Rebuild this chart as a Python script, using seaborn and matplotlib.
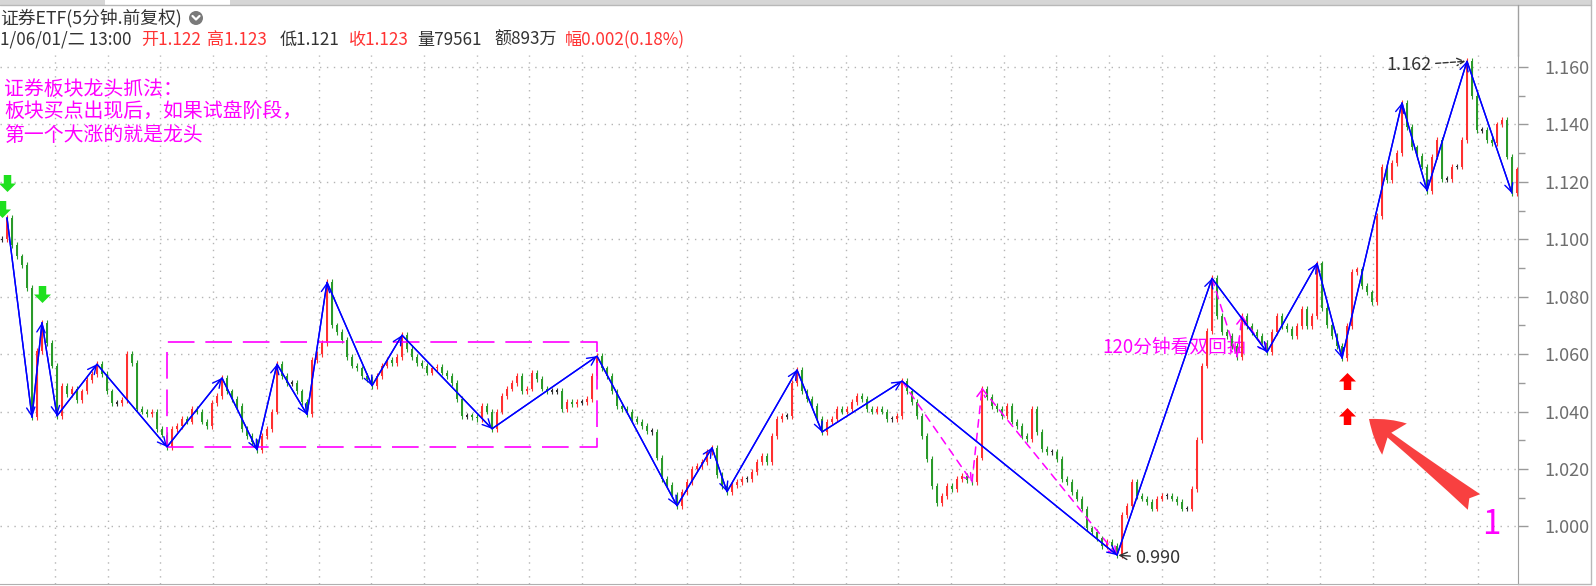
import numpy as np
import seaborn as sns
import matplotlib
matplotlib.use('Agg')
import matplotlib.pyplot as plt
from matplotlib.patches import Rectangle, Circle

# 5-minute closes (one value per ~5 px)
closes = [
    1.100, 1.1075, 1.098, 1.094, 1.091, 1.083, 1.038, 1.061, 1.071, 1.064,
    1.056, 1.0385, 1.049, 1.046, 1.048, 1.044, 1.047, 1.051, 1.053, 1.0565,
    1.053, 1.047, 1.043, 1.043, 1.044, 1.060, 1.057, 1.041, 1.040, 1.039,
    1.040, 1.034, 1.032, 1.0277, 1.034, 1.035, 1.0375, 1.0365, 1.041, 1.040,
    1.0365, 1.035, 1.043, 1.0455, 1.0517, 1.047, 1.0445, 1.042, 1.034, 1.0315,
    1.0295, 1.0267, 1.0315, 1.034, 1.040, 1.0565, 1.0525, 1.050, 1.050, 1.047,
    1.0433, 1.039, 1.058, 1.060, 1.064, 1.085, 1.070, 1.0676, 1.065, 1.059,
    1.056, 1.055, 1.0525, 1.0513, 1.049, 1.0525, 1.056, 1.058, 1.057, 1.059,
    1.0666, 1.0617, 1.059, 1.057, 1.056, 1.0536, 1.055, 1.0555, 1.0536, 1.0525,
    1.050, 1.0444, 1.0385, 1.0385, 1.038, 1.0375, 1.042, 1.040, 1.034, 1.040,
    1.0455, 1.048, 1.050, 1.0525, 1.047, 1.048, 1.0536, 1.0513, 1.048, 1.0472,
    1.0472, 1.0472, 1.041, 1.0433, 1.0427, 1.0433, 1.0433, 1.0444, 1.0525, 1.0593,
    1.055, 1.0525, 1.047, 1.042, 1.041, 1.040, 1.0375, 1.0365, 1.035, 1.0333,
    1.033, 1.024, 1.0165, 1.0145, 1.011, 1.0072, 1.012, 1.0155, 1.020, 1.021,
    1.0225, 1.026, 1.0274, 1.018, 1.014, 1.0121, 1.0145, 1.0155, 1.0166, 1.0166,
    1.019, 1.0225, 1.0245, 1.0225, 1.0315, 1.0375, 1.0385, 1.0385, 1.050, 1.0545,
    1.047, 1.0444, 1.042, 1.0375, 1.0329, 1.0365, 1.0375, 1.041, 1.040, 1.041,
    1.0433, 1.0455, 1.0444, 1.041, 1.040, 1.041, 1.040, 1.0375, 1.0375, 1.0385,
    1.0506, 1.047, 1.0433, 1.0385, 1.0315, 1.0235, 1.014, 1.008, 1.0107, 1.014,
    1.013, 1.0166, 1.0176, 1.016, 1.0155, 1.024, 1.048, 1.045, 1.042, 1.041,
    1.0385, 1.042, 1.0365, 1.035, 1.0315, 1.0305, 1.041, 1.033, 1.027, 1.026,
    1.026, 1.0235, 1.0166, 1.0155, 1.012, 1.0097, 1.0062, 0.9993, 0.998, 0.9958,
    0.9933, 0.9947, 0.9933, 0.990, 1.004, 1.007, 1.0155, 1.0107, 1.0097, 1.0086,
    1.0062, 1.0097, 1.0107, 1.0107, 1.0097, 1.0086, 1.0062, 1.0062, 1.013, 1.030,
    1.056, 1.068, 1.0864, 1.0732, 1.0676, 1.0663, 1.0628, 1.059, 1.0732, 1.0697,
    1.0676, 1.0663, 1.064, 1.0607, 1.0676, 1.0732, 1.0697, 1.0687, 1.0663, 1.0697,
    1.0756, 1.0697, 1.0732, 1.0916, 1.076, 1.070, 1.0663, 1.0628, 1.0586, 1.0697,
    1.0885, 1.0895, 1.0836, 1.0815, 1.078, 1.108, 1.1253, 1.1207, 1.1265, 1.130,
    1.1475, 1.139, 1.132, 1.129, 1.1253, 1.1169, 1.1288, 1.1346, 1.121, 1.121,
    1.1253, 1.1253, 1.1346, 1.162, 1.150, 1.138, 1.138, 1.1346, 1.1336, 1.140,
    1.1416, 1.1288, 1.116, 1.1243,
]

# turning points of the blue zigzag (bar indices)
zigzag_idx = [1, 6, 8, 11, 19, 33, 44, 51, 55, 61, 65, 74, 80, 98, 119, 135,
              142, 145, 159, 164, 180, 223, 242, 253, 263, 268, 280, 285, 293, 302]
# magenta dashed sub-waves
magenta_waves = [[180, 194, 196, 223], [242, 247, 248, 253]]
# dashed box (consolidation range)
box_idx = [33, 119]
box_price = [1.0277, 1.0642]
# signals
sell_idx = [1, 0, 8]
sell_price = [1.1197, 1.1107, 1.0808]
buy_idx = [269, 269]
buy_price = [1.0505, 1.0385]
y_ticks = [1.000, 1.020, 1.040, 1.060, 1.080, 1.100, 1.120, 1.140, 1.160]

title = '证券ETF(5分钟.前复权)'
info_parts = [('1/06/01/二 13:00', '#333333', 0), ('开1.122', '#ff3333', 141),
              ('高1.123', '#ff3333', 207), ('低1.121', '#333333', 280),
              ('收1.123', '#ff3333', 349), ('量79561', '#333333', 417),
              ('额893万', '#333333', 494), ('幅0.002(0.18%)', '#ff3333', 565)]
note_lines = ['证券板块龙头抓法：', '板块买点出现后，如果试盘阶段，', '第一个大涨的就是龙头']

sns.set_style('white')
plt.rcParams['font.family'] = ['Noto Sans CJK SC', 'DejaVu Sans']

W, H = 1596, 586
fig = plt.figure(figsize=(W / 100, H / 100), dpi=100, facecolor='white')
ax = fig.add_axes([0, 2 / H, 1518 / W, (584 - 55) / H])

c = np.array(closes)
o = np.concatenate([[c[0]], c[:-1]])
x = np.arange(len(c))
diff = c - o
colors = np.where(diff > 0.0004, '#ff3030', np.where(diff < -0.0004, '#2a9a2a', '#303030'))
body = np.where(np.abs(diff) < 0.0005, 0.0005, diff)
lo = np.minimum(o, c)
hi = np.maximum(o, c)
ax.vlines(x, lo - 0.001, hi + 0.001, colors=colors, lw=0.8, zorder=3)
ax.bar(x, body, bottom=np.where(np.abs(diff) < 0.0005, o - 0.00025, o),
       width=0.55, color=colors, linewidth=0, zorder=3)

# blue zigzag
zz_y = c[zigzag_idx]
sns.lineplot(x=zigzag_idx, y=zz_y, ax=ax, color='#0000ff', lw=1.0, zorder=5,
             sort=False, estimator=None)
for a, b in zip(zigzag_idx[:-1], zigzag_idx[1:]):
    ax.annotate('', xy=(b, c[b]), xytext=(a, c[a]),
                arrowprops=dict(arrowstyle='->,head_length=0.6,head_width=0.3',
                                color='#0000ff', lw=1.0, shrinkA=0, shrinkB=0),
                zorder=5)

# magenta sub-waves
for wave in magenta_waves:
    for a, b in zip(wave[:-1], wave[1:]):
        ax.annotate('', xy=(b, c[b]), xytext=(a, c[a]),
                    arrowprops=dict(arrowstyle='->,head_length=0.5,head_width=0.3',
                                    color='#ff00ff', lw=1.1, linestyle=(0, (5, 4)),
                                    shrinkA=0, shrinkB=0), zorder=4)

# dashed box
bx = [box_idx[0], box_idx[1], box_idx[1], box_idx[0], box_idx[0]]
by = [box_price[0], box_price[0], box_price[1], box_price[1], box_price[0]]
ax.plot(bx, by, color='#ff00ff', lw=1.2, linestyle=(0, (16, 6.5)), zorder=4)

ax.text(220, 1.0624, '120分钟看双回抽', color='#ff00ff', fontsize=13.5,
        ha='left', va='center', zorder=2)

# signal arrows
up_arrow = [(0, 0.5), (0.5, 0.0), (0.22, 0.0), (0.22, -0.5), (-0.22, -0.5),
            (-0.22, 0.0), (-0.5, 0.0), (0, 0.5)]
down_arrow = [(px, -py) for px, py in up_arrow]
ax.scatter(buy_idx, buy_price, marker=up_arrow, s=150, color='#ff0000',
           linewidths=0, zorder=6)
ax.scatter(sell_idx, sell_price, marker=down_arrow, s=150, color='#1ee01e',
           linewidths=0, zorder=6)

# extreme labels
ax.annotate('1.162', xy=(293, 1.162), xytext=(-36, -4), textcoords='offset pixels',
            ha='right', va='center', fontsize=13, color='#333333',
            arrowprops=dict(arrowstyle='->', linestyle='--', color='#333333',
                            lw=1, shrinkA=1, shrinkB=1), zorder=6)
ax.annotate('0.990', xy=(223, 0.990), xytext=(18, -3), textcoords='offset pixels',
            ha='left', va='center', fontsize=13, color='#333333',
            arrowprops=dict(arrowstyle='->', color='#333333', lw=1,
                            shrinkA=1, shrinkB=1), zorder=6)

ax.set_xlim(-0.4, 303.2)
ax.set_ylim(0.97995, 1.16417)
ax.set_yticks(y_ticks)
ax.set_yticklabels([f'{v:.3f}' for v in y_ticks])
ax.set_yticks([1.010, 1.030, 1.050, 1.070, 1.090, 1.110, 1.130, 1.150], minor=True)
ax.set_xticks(np.arange(10.6, 303, 10.54))
ax.set_xticklabels([])
ax.yaxis.tick_right()
ax.tick_params(axis='y', which='major', direction='out', length=7, width=1,
               color='#9a9a9a', labelcolor='#6e6e6e', labelsize=13, pad=12)
ax.tick_params(axis='y', which='minor', direction='out', length=5, width=1,
               color='#9a9a9a')
ax.tick_params(axis='x', length=0)
ax.grid(True, which='major', linestyle=(0, (1, 4)), color='#b4b4b4', lw=1)
ax.set_axisbelow(True)
for s in ['left', 'top']:
    ax.spines[s].set_visible(False)
ax.spines['right'].set_color('#a0a0a0')
ax.spines['bottom'].set_color('#b0b0b0')
ax.set_xlabel('')
ax.set_ylabel('')

# overlay in pixel coordinates for header and annotations
ov = fig.add_axes([0, 0, 1, 1])
ov.set_xlim(0, W)
ov.set_ylim(H, 0)
ov.axis('off')
ov.patch.set_alpha(0)

ov.add_patch(Rectangle((0, 0), 1591, 5, color='#d6d6d6', lw=0))
ov.add_patch(Rectangle((105, 0), 125, 5, color='white', lw=0))
ov.plot([0, 1591], [5, 5], color='#b8b8b8', lw=1)
ov.plot([1518, 1518], [5, 56], color='#a0a0a0', lw=1)
ov.plot([1591, 1591], [0, 584], color='#b8b8b8', lw=1)
ov.plot([1518, 1591], [584, 584], color='#b8b8b8', lw=1)

ov.text(0, 18, title, color='#333333', fontsize=12.8, ha='left', va='center')
ov.add_patch(Circle((196, 18), 7, color='#7a7a7a', lw=0))
ov.plot([192.5, 196, 199.5], [16, 19.5, 16], color='white', lw=1.6)
for txt, col, px in info_parts:
    ov.text(px, 40, txt, color=col, fontsize=12.3, ha='left', va='center')

for k, line in enumerate(note_lines):
    ov.text(4, 89 + 23 * k, line, color='#ff00ff', fontsize=14.3,
            ha='left', va='center')

ov.annotate('', xy=(1369, 419), xytext=(1474, 502),
            arrowprops=dict(arrowstyle='fancy,head_length=0.9,head_width=1.1,tail_width=0.55',
                            color='#f84040', lw=0, mutation_scale=26,
                            connectionstyle='arc3', shrinkA=0, shrinkB=0))
ov.text(1482, 525, '1', color='#ff00ff', fontsize=24, ha='left', va='center')

fig.savefig('out.png', dpi=100, facecolor='white')
